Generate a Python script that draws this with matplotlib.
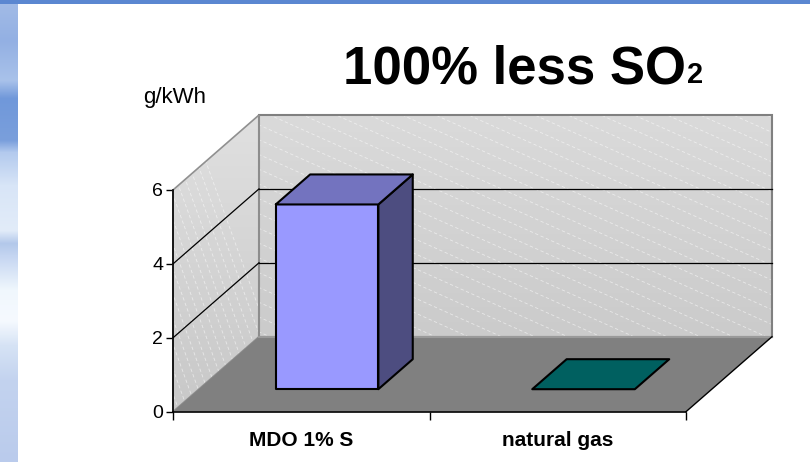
import numpy as np
import matplotlib.pyplot as plt
from matplotlib.patches import Polygon, Rectangle
from matplotlib.colors import to_rgb

plt.rcParams['font.family'] = ['Liberation Sans', 'DejaVu Sans']

# datos
categorias = ['MDO 1% S', 'natural gas']
so2 = [5, 0]
yticks = [0, 2, 4, 6]
colores = ['#9999ff', '#008080']
titulo = '100% less SO'
subindice = '2'
unidad = 'g/kWh'

# perspectiva oblicua: un paso de profundidad = (KX, KZ) en unidades de datos
KX = 86 / 256.5
KZ = 75 / 36.95
D0, D1 = 0.3, 0.7      # profundidad de las barras
ANCHO = 0.4


def p(x, d, z):
    return (x + d * KX, z + d * KZ)


def oscuro(c, f):
    return tuple(np.array(to_rgb(c)) * f)


fig = plt.figure(figsize=(8.1, 4.62), dpi=100)

# fondo azul de la plantilla
bg = fig.add_axes([0, 0, 1, 1], zorder=-5)
bg.axis('off')
bg.set_xlim(0, 810)
bg.set_ylim(462, 0)
paradas_y = [0, 40, 80, 98, 140, 152, 185, 230, 243, 255, 290, 320, 345, 380, 462]
paradas_c = ['#a3bce7', '#93b0e3', '#a9c2ea', '#7098da', '#7a9fdc', '#b3caee',
             '#d8e5f7', '#e2ecf9', '#b3c8ea', '#c4d5f1', '#f0f7fd', '#f6faff',
             '#d6e3f5', '#c3d3ef', '#bacbec']
yy = np.arange(462)
rgb = np.array([to_rgb(c) for c in paradas_c])
franja = np.stack([np.interp(yy, paradas_y, rgb[:, k]) for k in range(3)], axis=-1)
franja = np.repeat(franja[:, None, :], 4, axis=1)
bg.imshow(franja, extent=[0, 18, 462, 0], aspect='auto', interpolation='bilinear')
bg.add_patch(Rectangle((0, 0), 810, 3.5, color='#5b87d1', lw=0))

ax = fig.add_axes([173 / 810, (462 - 411.7) / 462, 513 / 810, 221.7 / 462])
n = len(categorias)
zmax = yticks[-1]

# paredes
pared_fondo = Polygon([p(0, 1, 0), p(n, 1, 0), p(n, 1, zmax), p(0, 1, zmax)],
                      closed=True, fc='none', ec='#808080', lw=1.5, zorder=2, clip_on=False)
pared_izq = Polygon([p(0, 0, 0), p(0, 0, zmax), p(0, 1, zmax), p(0, 1, 0)],
                    closed=True, fc='none', ec='#909090', lw=1.2, zorder=2, clip_on=False)
for pared, c_arr, c_ab in [(pared_fondo, '#dadada', '#c6c6c6'), (pared_izq, '#e0e0e0', '#c8c8c8')]:
    ax.add_patch(pared)
    grad = np.linspace(0, 1, 64)[:, None]
    img = np.array(to_rgb(c_arr)) * (1 - grad[..., None]) + np.array(to_rgb(c_ab)) * grad[..., None]
    im = ax.imshow(img, extent=[0, n + KX, 0, zmax + KZ], origin='upper', aspect='auto',
                   zorder=1, interpolation='bilinear')
    im.set_clip_box(fig.bbox)
    im.set_clip_path(pared)

# rayado tenue de las paredes
for c in np.arange(-2, 16, 0.4):
    xs = np.array([0, n + KX])
    l, = ax.plot(xs, c - 3.1 * xs, color='white', lw=0.6, ls=(0, (4, 3)), alpha=0.55, zorder=1.5)
    l.set_clip_box(fig.bbox)
    l.set_clip_path(pared_fondo)
for c in np.arange(-0.5, 0.5, 0.035):
    zs = np.array([-1, zmax + KZ + 1])
    l, = ax.plot(c - zs * 0.052, zs, color='white', lw=0.6, ls=(0, (4, 3)), alpha=0.55, zorder=1.5)
    l.set_clip_box(fig.bbox)
    l.set_clip_path(pared_izq)

# suelo
ax.add_patch(Polygon([p(0, 0, 0), p(n, 0, 0), p(n, 1, 0), p(0, 1, 0)], closed=True,
                     fc='#808080', ec='none', zorder=2, clip_on=False))
ax.plot(*zip(p(0, 1, 0), p(n, 1, 0)), color='#9a9a9a', lw=1.5, zorder=2.2, clip_on=False)
ax.plot(*zip(p(n, 0, 0), p(n, 1, 0)), color='black', lw=1, zorder=2.2, clip_on=False)

# líneas de división
for v in yticks[1:-1]:
    ax.plot(*zip(p(0, 0, v), p(0, 1, v)), color='black', lw=0.9, zorder=3, clip_on=False)
    ax.plot(*zip(p(0, 1, v), p(n, 1, v)), color='black', lw=0.9, zorder=3, clip_on=False)

# barras
for i, (val, col) in enumerate(zip(so2, colores)):
    xa = i + 0.5 - ANCHO / 2
    xb = i + 0.5 + ANCHO / 2
    kw = dict(closed=True, ec='black', lw=1.5, joinstyle='round', zorder=5, clip_on=False)
    if val > 0:
        ax.add_patch(Polygon([p(xb, D0, 0), p(xb, D1, 0), p(xb, D1, val), p(xb, D0, val)],
                             fc=oscuro(col, 0.5), **kw))
        ax.add_patch(Polygon([p(xa, D0, 0), p(xb, D0, 0), p(xb, D0, val), p(xa, D0, val)],
                             fc=col, **kw))
    ax.add_patch(Polygon([p(xa, D0, val), p(xb, D0, val), p(xb, D1, val), p(xa, D1, val)],
                         fc=oscuro(col, 0.75), **kw))

ax.set_xlim(0, n)
ax.set_ylim(0, zmax)
ax.patch.set_visible(False)
for s in ['top', 'right']:
    ax.spines[s].set_visible(False)
for s in ['left', 'bottom']:
    ax.spines[s].set_linewidth(1.2)
    ax.spines[s].set_zorder(4)
ax.set_yticks(yticks)
ax.set_yticklabels([str(t) for t in yticks])
ax.set_xticks(range(n + 1))
ax.set_xticklabels([])
ax.set_xticks([i + 0.5 for i in range(n)], minor=True)
ax.set_xticklabels(categorias, minor=True, fontsize=15, fontweight='bold')
ax.tick_params(axis='y', direction='out', length=5, width=1, labelsize=14, pad=2)
ax.tick_params(axis='x', which='major', direction='out', length=6, width=1)
ax.tick_params(axis='x', which='minor', length=0, pad=14)

fig.text(175 / 810, 1 - 98 / 462, unidad, fontsize=16, ha='center', va='center')

# título con el 2 pequeño sobre la línea base
t = fig.text(343 / 810, 1 - 83 / 462, titulo, fontsize=38, fontweight='bold',
             ha='left', va='baseline')
r = fig.canvas.get_renderer()
bb = t.get_window_extent(renderer=r)
fig.text(bb.x1 / 810 + 1 / 810, 1 - 83 / 462, subindice, fontsize=21, fontweight='bold',
         ha='left', va='baseline')

fig.savefig('out.png', dpi=100)
